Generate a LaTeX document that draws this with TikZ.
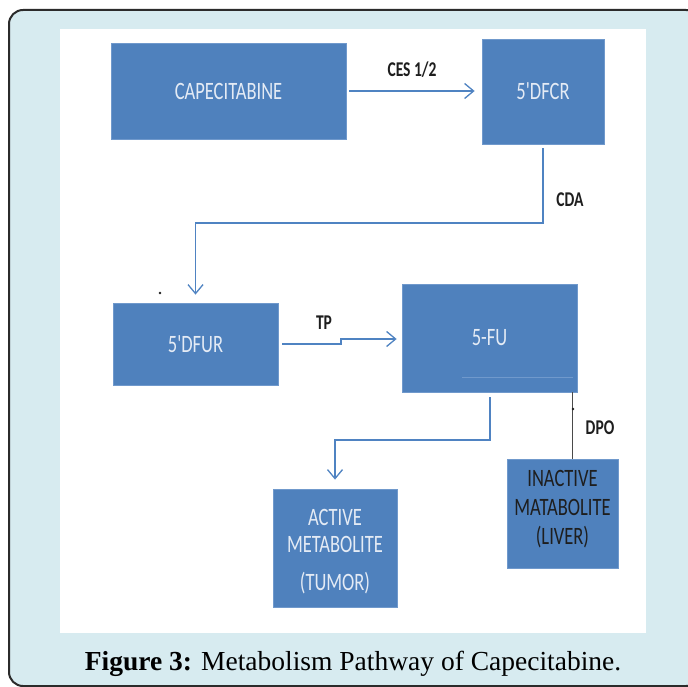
\documentclass[tikz,border=0pt]{standalone}
\usepackage{fontspec}
\usetikzlibrary{arrows.meta}

\newfontfamily\boxfont[FakeStretch=0.74]{Carlito}
\newfontfamily\capfont{Liberation Serif}

\definecolor{framefill}{HTML}{D7EBF0}
\definecolor{frameline}{HTML}{2B2B2B}
\definecolor{boxblue}{HTML}{4F81BD}
\definecolor{boxedge}{HTML}{7099CC}
\definecolor{boxtext}{HTML}{E4EBF5}
\definecolor{darktext}{HTML}{1E1E1E}
\definecolor{linkblue}{HTML}{4F83C2}
\definecolor{dpogray}{HTML}{4A4A4A}

\begin{document}
\begin{tikzpicture}[x=1pt, y=-1pt, >={Straight Barb[length=9pt,width=15pt]}, semithick]

  \tikzstyle{drug}=[rectangle, fill=boxblue, draw=boxedge, line width=0.8pt, inner sep=0pt, text=boxtext, font=\boxfont\fontsize{25}{29}\selectfont, align=center]
  \tikzstyle{enzyme}=[font=\boxfont\bfseries\fontsize{21}{25}\selectfont, text=darktext, inner sep=0pt]
  \tikzstyle{link}=[draw=linkblue, line width=1.3pt]

  \useasboundingbox (0,0) rectangle (688,687);
  \clip (0,0) rectangle (688,687);

  % frame and white panel
  \draw[line width=2pt, draw=frameline, fill=framefill, rounded corners=14pt] (9,10) rectangle (700,686);
  \fill[white] (60,29) rectangle (646,633);

  \node[drug, minimum width=235pt, minimum height=96pt] (capecitabine) at (228.5,91) {CAPECITABINE};
  \node[drug, minimum width=122pt, minimum height=105pt] (dfcr) at (543,91.5) {5'DFCR};
  \node[drug, minimum width=165pt, minimum height=82pt] (dfur) at (195.5,344) {5'DFUR};
  \node[drug, minimum width=175pt, minimum height=108pt] (fu) at (489.5,338) {5-FU};
  \node[drug, minimum width=124pt, minimum height=118pt] (active) at (335,548) {ACTIVE\\[-2pt]METABOLITE\\[9pt](TUMOR)\\[-33pt]};
  \node[drug, minimum width=111pt, minimum height=109pt, text=darktext] (inactive) at (562.5,513.5) {INACTIVE\\MATABOLITE\\(LIVER)\\[-17pt]};

  \draw[draw=boxedge, line width=0.8pt] (462,377) -- (573,377);

  \coordinate (cdaknee) at (195.5,223);
  \coordinate (tpstep) at (341,344);
  \coordinate (fuknee) at (490,440);

  \draw[link, ->, shorten <=3pt, shorten >=7pt] (capecitabine.east) -- (dfcr.west |- capecitabine.east);
  \draw[link, ->, shorten <=4pt, shorten >=8pt] (dfcr.south) |- (cdaknee) -- (dfur.north);
  \draw[link, ->, shorten <=4pt, shorten >=5pt] (dfur.east) -- (tpstep) -- ++(0,-5) -- ([yshift=-1pt]fu.west);
  \draw[link, ->, shorten <=5pt, shorten >=9pt] ([xshift=0.5pt]fu.south) -- (fuknee) -| (active.north);
  \draw[draw=dpogray, line width=1.1pt] ([xshift=-5pt]fu.south east) -- ([xshift=-5pt]fu.south east |- inactive.north);

  \node[enzyme] (ces) at (412,70) {CES 1/2};
  \node[enzyme] (cda) at (570,200) {CDA};
  \node[enzyme] (tp) at (324,323) {TP};
  \node[enzyme] (dpo) at (600,428) {DPO};

  \fill[darktext] (160,293) circle (1.3pt);
  \fill[darktext] (573,409) circle (1.3pt);

  \node[anchor=base, font=\capfont\fontsize{27.5}{30}\selectfont, inner sep=0pt] (caption) at (353,670) {\textbf{Figure 3:} Metabolism Pathway of Capecitabine.};

\end{tikzpicture}
\end{document}
